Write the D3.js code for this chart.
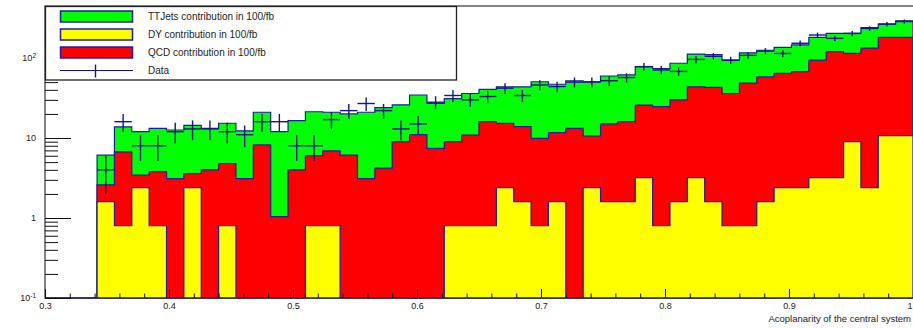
<!DOCTYPE html>
<html>
<head>
<meta charset="utf-8">
<script src="https://cdn.jsdelivr.net/npm/d3@7"></script>
<style>
  html, body { margin: 0; padding: 0; background: #fff; overflow: hidden; }
  text { font-family: "Liberation Sans", Arial, Helvetica, sans-serif; }
</style>
</head>
<body>
<svg id="chart" width="913" height="328"></svg>
<script>
// Histogram binning: 50 bins of width 0.014 from 0.3 to 1.0
const binLow = 0.3;
const binWidth = 0.014;
const nBins = 50;

// Per-bin contributions (events in 100/fb)
const dyValues = [
  0, 0, 0, 1.6, 0.8, 2.4, 0.8, 0, 2.4, 0,
  0.8, 0, 0, 0, 0, 0.8, 0.8, 0, 0, 0,
  0, 0, 0, 0.8, 0.8, 0.8, 2.4, 1.6, 0.8, 1.6,
  0, 2.4, 1.6, 1.6, 3.2, 0.8, 1.6, 3.2, 1.6, 0.8,
  0.8, 1.6, 2.4, 2.4, 3.2, 3.2, 9.0, 2.4, 10.7, 10.7
];
const qcdValues = [
  0, 0, 0, 1.0, 5.9, 1.05, 3.0, 3.1, 1.2, 4.0,
  4.0, 3.1, 8.2, 1.04, 4.0, 5.2, 6.1, 6.1, 3.1, 4.2,
  9.0, 11.0, 7.4, 8.2, 10.1, 15.2, 12.9, 12.3, 9.1, 10.1,
  13.2, 8.2, 13.4, 14.4, 22.6, 23.9, 28.4, 40.5, 41.4, 35.2,
  47.7, 56.4, 62.1, 65.2, 90.8, 116.8, 105.0, 130.6, 170.3, 170.3
];
const ttjetsValues = [
  0, 0, 0, 3.5, 7.1, 8.55, 9.4, 9.5, 10.8, 9.2,
  10.5, 9.2, 12.8, 11.0, 12.5, 15.3, 14.1, 13.9, 17.9, 19.8,
  17.0, 23.5, 19.6, 22.0, 25.1, 24.5, 28.4, 29.8, 40.6, 35.3,
  38.8, 39.9, 44.6, 45.5, 52.2, 49.3, 56.0, 68.3, 67.0, 58.0,
  67.5, 67.0, 71.5, 78.4, 87.0, 83.0, 89.0, 107.0, 85.0, 111.0
];
const dataValues = [
  0, 0, 0, 4, 16, 8, 8, 12, 13, 13,
  12, 11, 16, 16, 8, 8, 17, 22, 27, 22,
  13, 15, 28, 34, 30, 33, 42, 34, 46, 44,
  50, 50, 52, 57, 78, 71, 68, 96, 105, 94,
  108, 122, 114, 153, 194, 176, 203, 234, 266, 286
];

// Axis ticks and labels
const xMajorTicks = [0.3, 0.4, 0.5, 0.6, 0.7, 0.8, 0.9, 1.0];
const xTickLabels = ["0.3", "0.4", "0.5", "0.6", "0.7", "0.8", "0.9", "1"];
const yMajorTicks = [0.1, 1, 10, 100];
const yTickBase = ["10", "1", "10", "10"];
const yTickExponent = ["-1", "", "", "2"];
const xTitle = "Acoplanarity of the central system";

// Legend
const legendLabels = [
  "TTJets contribution in 100/fb",
  "DY contribution in 100/fb",
  "QCD contribution in 100/fb",
  "Data"
];
const legendKinds = ["fill", "fill", "fill", "data"];

const colors = { dy: "#ffff00", qcd: "#ff0000", ttjets: "#00ff00" };
const lineBlue = "#1c1ca6";
const dataBlue = "#14148c";

const frame = { left: 45, right: 913, top: 6, bottom: 298 };

const svg = d3.select("#chart");

const x = d3.scaleLinear().domain([0.3, 1.0]).range([frame.left, frame.right]);
const y = d3.scaleLog().domain([0.1, 447]).range([frame.bottom, frame.top]).clamp(true);

// Stacked contributions, drawn tallest first so each layer sits in front
const rows = d3.range(nBins).map(i => ({
  dy: dyValues[i], qcd: qcdValues[i], ttjets: ttjetsValues[i]
}));
const stack = d3.stack().keys(["dy", "qcd", "ttjets"])(rows);

function stepPath(tops) {
  const p = d3.path();
  p.moveTo(x(binLow), frame.bottom);
  tops.forEach((v, i) => {
    const x0 = x(binLow + i * binWidth);
    const x1 = x(binLow + (i + 1) * binWidth);
    const yy = v > 0 ? y(v) : frame.bottom;
    p.lineTo(x0, yy);
    p.lineTo(x1, yy);
  });
  p.lineTo(x(binLow + nBins * binWidth), frame.bottom);
  p.closePath();
  return p.toString();
}

const layers = svg.append("g").attr("class", "stack");
stack.slice().reverse().forEach(layer => {
  const tops = layer.map(d => d[1]);
  layers.append("path")
    .attr("d", stepPath(tops))
    .attr("fill", colors[layer.key])
    .attr("stroke", lineBlue)
    .attr("stroke-width", 1.2)
    .attr("stroke-linejoin", "miter");
});

// Data points with bin-width horizontal bars and sqrt(N) vertical errors
const pts = svg.append("g").attr("class", "data")
  .attr("stroke", dataBlue).attr("stroke-width", 1.4);
dataValues.forEach((n, i) => {
  if (n <= 0) return;
  const xc = x(binLow + (i + 0.5) * binWidth);
  const x0 = x(binLow + i * binWidth);
  const x1 = x(binLow + (i + 1) * binWidth);
  const err = Math.sqrt(n);
  pts.append("line").attr("x1", x0).attr("x2", x1).attr("y1", y(n)).attr("y2", y(n));
  pts.append("line").attr("x1", xc).attr("x2", xc)
    .attr("y1", y(n + err)).attr("y2", y(Math.max(n - err, 0.1)));
});

// Frame
svg.append("rect")
  .attr("x", frame.left).attr("y", frame.top)
  .attr("width", frame.right - frame.left + 2).attr("height", frame.bottom - frame.top)
  .attr("fill", "none").attr("stroke", "#333").attr("stroke-width", 1.2);

// X axis: major + minor ticks pointing into the frame
const xMinor = d3.range(15, 51).map(k => k * 0.02).filter(v => Math.abs(v * 10 - Math.round(v * 10)) > 1e-6);
const xAxisMinor = d3.axisBottom(x).tickValues(xMinor).tickSize(-4.5).tickFormat("");
const xAxis = d3.axisBottom(x).tickValues(xMajorTicks).tickSize(-9).tickPadding(5)
  .tickFormat((d, i) => xTickLabels[i]);

svg.append("g").attr("transform", `translate(0,${frame.bottom})`).call(xAxisMinor)
  .call(g => g.select(".domain").remove())
  .call(g => g.selectAll("line").attr("stroke", "#111"));
svg.append("g").attr("transform", `translate(0,${frame.bottom})`).call(xAxis)
  .call(g => g.select(".domain").remove())
  .call(g => g.selectAll("line").attr("stroke", "#111"))
  .call(g => g.selectAll("text").attr("font-size", 9).attr("fill", "#222")
    .attr("font-family", "Liberation Sans, Arial, sans-serif"))
  // the last label sits at the right edge of the page: keep it inside
  .call(g => g.selectAll(".tick text").filter((d, i, n) => i === n.length - 1)
    .attr("text-anchor", "end").attr("x", -1));

// Y axis: log with minor ticks 2..9 per decade
const yMinor = [];
[0.1, 1, 10, 100].forEach(dec => {
  for (let m = 2; m <= 9; m++) if (dec * m <= 447) yMinor.push(dec * m);
});
const yAxisMinor = d3.axisLeft(y).tickValues(yMinor).tickSize(-13).tickFormat("");
const yAxis = d3.axisLeft(y).tickValues(yMajorTicks).tickSize(-26).tickPadding(8)
  .tickFormat(() => "");

svg.append("g").attr("transform", `translate(${frame.left},0)`).call(yAxisMinor)
  .call(g => g.select(".domain").remove())
  .call(g => g.selectAll("line").attr("stroke", "#111"));
const yg = svg.append("g").attr("transform", `translate(${frame.left},0)`).call(yAxis)
  .call(g => g.select(".domain").remove())
  .call(g => g.selectAll("line").attr("stroke", "#111"));
yg.selectAll(".tick text").each(function (d, i) {
  const t = d3.select(this)
    .attr("font-size", 9).attr("fill", "#222")
    .attr("font-family", "Liberation Sans, Arial, sans-serif")
    .attr("x", -9).attr("dy", "0.32em");
  t.text(yTickBase[i]);
  if (yTickExponent[i]) {
    t.append("tspan").attr("dy", "-0.45em").attr("font-size", 6.5).text(yTickExponent[i]);
  }
});

// Axis title, right-aligned at the end of the x axis
svg.append("text")
  .attr("x", 911).attr("y", 322)
  .attr("text-anchor", "end")
  .attr("font-size", 9.5).attr("fill", "#222")
  .text(xTitle);

// Legend
const lg = svg.append("g").attr("class", "legend");
lg.append("rect")
  .attr("x", 45.5).attr("y", 6.5).attr("width", 411).attr("height", 73.5)
  .attr("fill", "#fff").attr("stroke", "#222").attr("stroke-width", 1.3);
const legendFill = [colors.ttjets, colors.dy, colors.qcd];
legendLabels.forEach((label, i) => {
  const cy = 16.5 + i * 18;
  if (legendKinds[i] === "fill") {
    lg.append("rect")
      .attr("x", 60.5).attr("y", cy - 5.5).attr("width", 72).attr("height", 11)
      .attr("fill", legendFill[i]).attr("stroke", lineBlue).attr("stroke-width", 1.5);
  } else {
    lg.append("line").attr("x1", 60).attr("x2", 133).attr("y1", cy).attr("y2", cy)
      .attr("stroke", dataBlue).attr("stroke-width", 1.2);
    lg.append("line").attr("x1", 95.5).attr("x2", 95.5).attr("y1", cy - 6).attr("y2", cy + 7)
      .attr("stroke", dataBlue).attr("stroke-width", 1.4);
  }
  lg.append("text")
    .attr("x", 148).attr("y", cy).attr("dy", "0.35em")
    .attr("font-size", 10).attr("fill", "#222")
    .text(label);
});
</script>
</body>
</html>
